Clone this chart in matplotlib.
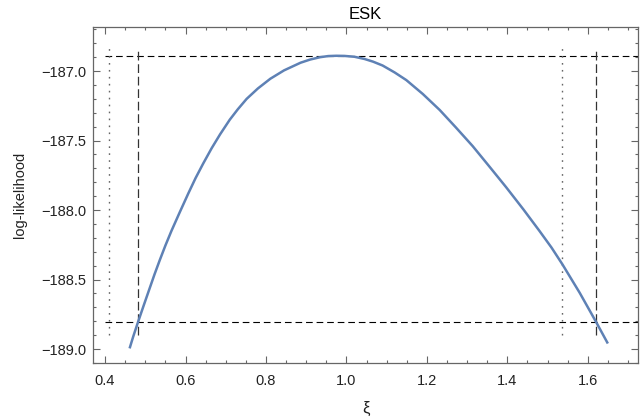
import numpy as np
import matplotlib
matplotlib.use("Agg")
import matplotlib.pyplot as plt
from matplotlib.ticker import MultipleLocator

# profile log-likelihood
xi = [0.461, 0.470, 0.482, 0.495, 0.510, 0.523, 0.536, 0.550, 0.565, 0.585,
      0.607, 0.625, 0.644, 0.665, 0.686, 0.710, 0.730, 0.752, 0.780, 0.811,
      0.845, 0.886, 0.910, 0.935, 0.955, 0.975, 0.995, 1.020, 1.045, 1.066,
      1.090, 1.120, 1.149, 1.190, 1.232, 1.272, 1.314, 1.355, 1.397, 1.440,
      1.480, 1.510, 1.537, 1.580, 1.621, 1.650]
loglik = [-188.995, -188.91, -188.805, -188.695, -188.57, -188.462, -188.36,
          -188.255, -188.15, -188.02, -187.88, -187.77, -187.665, -187.555,
          -187.455, -187.35, -187.275, -187.20, -187.125, -187.055, -186.995,
          -186.94, -186.917, -186.90, -186.892, -186.89, -186.891, -186.897,
          -186.913, -186.932, -186.96, -187.01, -187.065, -187.165, -187.28,
          -187.405, -187.54, -187.685, -187.835, -187.995, -188.15, -188.27,
          -188.39, -188.595, -188.806, -188.96]

ll_max = -186.89
ll_cut = -188.806
ci_dashed = [0.483, 1.621]
ci_dotted = [0.409, 1.537]

plt.rcParams['font.family'] = ['Liberation Sans', 'DejaVu Sans']

fig = plt.figure(figsize=(6.44, 4.18), dpi=100)
ax = fig.add_axes([0.1444, 0.1316, 0.9907 - 0.1444, 0.9354 - 0.1316])

frame = '#666666'
txt = '#222222'

ax.hlines([ll_max, ll_cut], 0.4, 1.8, colors='black', lw=0.8,
          linestyles=[(0, (6, 3.5))])
ax.vlines(ci_dashed, -188.90, -186.835, colors='#333333', lw=0.9,
          linestyles=[(0, (7, 3))])
ax.vlines(ci_dotted, -188.90, -186.81, colors='#666666', lw=1.0,
          linestyles=[(0, (1.2, 3.8))])

ax.plot(xi, loglik, color='#5E81B5', lw=1.8, solid_capstyle='butt')

ax.set_xlim(0.370, 1.725)
ax.set_ylim(-189.10, -186.683)

ax.xaxis.set_major_locator(MultipleLocator(0.2))
ax.xaxis.set_minor_locator(MultipleLocator(0.05))
ax.yaxis.set_major_locator(MultipleLocator(0.5))
ax.yaxis.set_minor_locator(MultipleLocator(0.1))
ax.xaxis.set_major_formatter(plt.FuncFormatter(lambda v, p: f"{v:.1f}"))
ax.yaxis.set_major_formatter(plt.FuncFormatter(lambda v, p: f"\u2212{abs(v):.1f}" if v < 0 else f"{v:.1f}"))

ax.tick_params(which='both', direction='in', top=True, right=True,
               color=frame, labelcolor=txt, labelsize=10.5, width=0.8)
ax.tick_params(which='major', length=5)
ax.tick_params(axis='x', which='major', pad=8)
ax.tick_params(axis='y', which='major', pad=5)
ax.tick_params(which='minor', length=2.5)
for s in ax.spines.values():
    s.set_color(frame)
    s.set_linewidth(0.9)

ax.set_title("ESK", fontsize=12, color='black', pad=6)
ax.set_xlabel("ξ", fontsize=12, color=txt, labelpad=9)
ax.set_ylabel("log-likelihood", fontsize=10.5, color=txt, labelpad=10)

fig.savefig("out.png", dpi=100)
